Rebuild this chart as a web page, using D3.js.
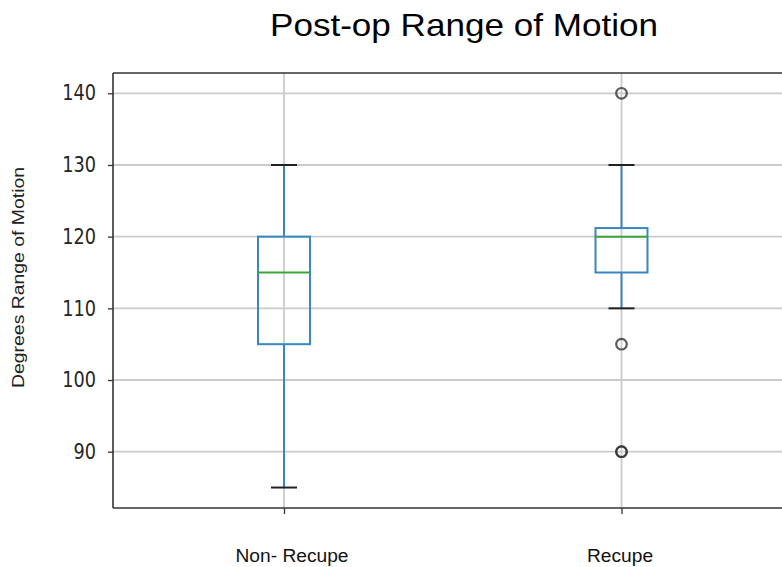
<!DOCTYPE html>
<html>
<head>
<meta charset="utf-8">
<script src="https://cdn.jsdelivr.net/npm/d3@7"></script>
<style>
  body { margin: 0; background: #fff; }
</style>
</head>
<body>
<div id="chart"></div>
<script>
// box plot stats
const groups = ['Non- Recupe', 'Recupe'];
const whiskerLow = [85, 110];
const q1 = [105, 115];
const median = [115, 120];
const q3 = [120, 121.2];
const whiskerHigh = [130, 130];
const outliers = [[], [140, 105, 90, 90]];
const yTicks = [90, 100, 110, 120, 130, 140];

const width = 782;
const height = 567;
const margin = { top: 73, bottom: 508, left: 113 };
const labelShift = [7.5, -2]; // category labels sit a bit off their ticks

const svg = d3.select('#chart')
  .append('svg')
  .attr('width', width)
  .attr('height', height);

const x = d3.scaleLinear()
  .domain([1, 2])
  .range([284, 621.5]);

const y = d3.scaleLinear()
  .domain([90, 140])
  .range([451.7, 93.3]);

const plot = svg.append('g');

// grid
plot.append('g')
  .selectAll('line')
  .data(yTicks)
  .enter()
  .append('line')
    .attr('x1', margin.left)
    .attr('x2', width)
    .attr('y1', (d) => y(d))
    .attr('y2', (d) => y(d))
    .attr('stroke', '#cbcbcb')
    .attr('stroke-width', 1.8);

plot.append('g')
  .selectAll('line')
  .data(groups)
  .enter()
  .append('line')
    .attr('x1', (d, i) => x(i + 1))
    .attr('x2', (d, i) => x(i + 1))
    .attr('y1', margin.top)
    .attr('y2', margin.bottom)
    .attr('stroke', '#cbcbcb')
    .attr('stroke-width', 1.8);

const boxW = 0.154;
const blue = '#3a86c0';

const box = plot.selectAll('g.box')
  .data(groups)
  .enter()
  .append('g')
    .attr('class', 'box');

// whiskers
box.append('line')
  .attr('x1', (d, i) => x(i + 1))
  .attr('x2', (d, i) => x(i + 1))
  .attr('y1', (d, i) => y(whiskerLow[i]))
  .attr('y2', (d, i) => y(q1[i]))
  .attr('stroke', blue)
  .attr('stroke-width', 2);

box.append('line')
  .attr('x1', (d, i) => x(i + 1))
  .attr('x2', (d, i) => x(i + 1))
  .attr('y1', (d, i) => y(q3[i]))
  .attr('y2', (d, i) => y(whiskerHigh[i]))
  .attr('stroke', blue)
  .attr('stroke-width', 2);

// caps
[whiskerLow, whiskerHigh].forEach((arr) => {
  box.append('line')
    .attr('x1', (d, i) => x(i + 1 - boxW / 4))
    .attr('x2', (d, i) => x(i + 1 + boxW / 4))
    .attr('y1', (d, i) => y(arr[i]))
    .attr('y2', (d, i) => y(arr[i]))
    .attr('stroke', '#222')
    .attr('stroke-width', 2);
});

// box
box.append('rect')
  .attr('x', (d, i) => x(i + 1 - boxW / 2))
  .attr('width', x(1 + boxW / 2) - x(1 - boxW / 2))
  .attr('y', (d, i) => y(q3[i]))
  .attr('height', (d, i) => y(q1[i]) - y(q3[i]))
  .attr('fill', 'none')
  .attr('stroke', blue)
  .attr('stroke-width', 2);

// median
box.append('line')
  .attr('x1', (d, i) => x(i + 1 - boxW / 2))
  .attr('x2', (d, i) => x(i + 1 + boxW / 2))
  .attr('y1', (d, i) => y(median[i]))
  .attr('y2', (d, i) => y(median[i]))
  .attr('stroke', '#3aa53a')
  .attr('stroke-width', 2);

// fliers
box.selectAll('circle')
  .data((d, i) => outliers[i].map((v) => ({ i, v })))
  .enter()
  .append('circle')
    .attr('cx', (d) => x(d.i + 1))
    .attr('cy', (d) => y(d.v))
    .attr('r', 5.3)
    .attr('fill', 'none')
    .attr('stroke', '#333')
    .attr('stroke-opacity', 0.8)
    .attr('stroke-width', 2.2);

// axes
const yAxis = svg.append('g')
  .attr('transform', `translate(${margin.left},0)`)
  .call(d3.axisLeft(y).tickValues(yTicks).tickSize(5).tickPadding(12).tickSizeOuter(0));

const xAxis = svg.append('g')
  .attr('transform', `translate(0,${margin.bottom})`)
  .call(d3.axisBottom(x).tickValues([1, 2]).tickFormat((d) => groups[d - 1])
    .tickSize(6).tickPadding(34).tickSizeOuter(0));

// stretch domains to the plot frame
yAxis.select('.domain').attr('d', `M0,${margin.top}V${margin.bottom}`);
xAxis.select('.domain').attr('d', `M${margin.left},0H${width}`);

[yAxis, xAxis].forEach((ax) => {
  ax.select('.domain').attr('stroke', '#333').attr('stroke-width', 1.6);
  ax.selectAll('.tick line').attr('stroke', '#333').attr('stroke-width', 1.3);
});

yAxis.selectAll('text')
  .attr('fill', '#262626')
  .attr('transform', 'scale(1,1.18)')
  .style('font-family', 'DejaVu Sans')
  .style('font-size', '17.7px');

xAxis.selectAll('text')
  .attr('fill', '#111')
  .attr('dx', (d) => labelShift[d - 1])
  .style('font-family', 'Liberation Sans')
  .style('font-size', '19.2px');

// top spine
svg.append('line')
  .attr('x1', margin.left)
  .attr('x2', width)
  .attr('y1', margin.top)
  .attr('y2', margin.top)
  .attr('stroke', '#333')
  .attr('stroke-width', 1.6);

svg.append('text')
  .attr('x', 464)
  .attr('y', 36)
  .attr('text-anchor', 'middle')
  .attr('textLength', 388)
  .attr('lengthAdjust', 'spacingAndGlyphs')
  .style('font-family', 'Liberation Sans')
  .style('font-size', '32px')
  .attr('fill', '#000')
  .text('Post-op Range of Motion');

svg.append('text')
  .attr('transform', 'translate(24,277.5) rotate(-90)')
  .attr('text-anchor', 'middle')
  .attr('textLength', 221)
  .attr('lengthAdjust', 'spacingAndGlyphs')
  .style('font-family', 'Liberation Sans')
  .style('font-size', '16px')
  .attr('fill', '#222')
  .text('Degrees Range of Motion');
</script>
</body>
</html>
